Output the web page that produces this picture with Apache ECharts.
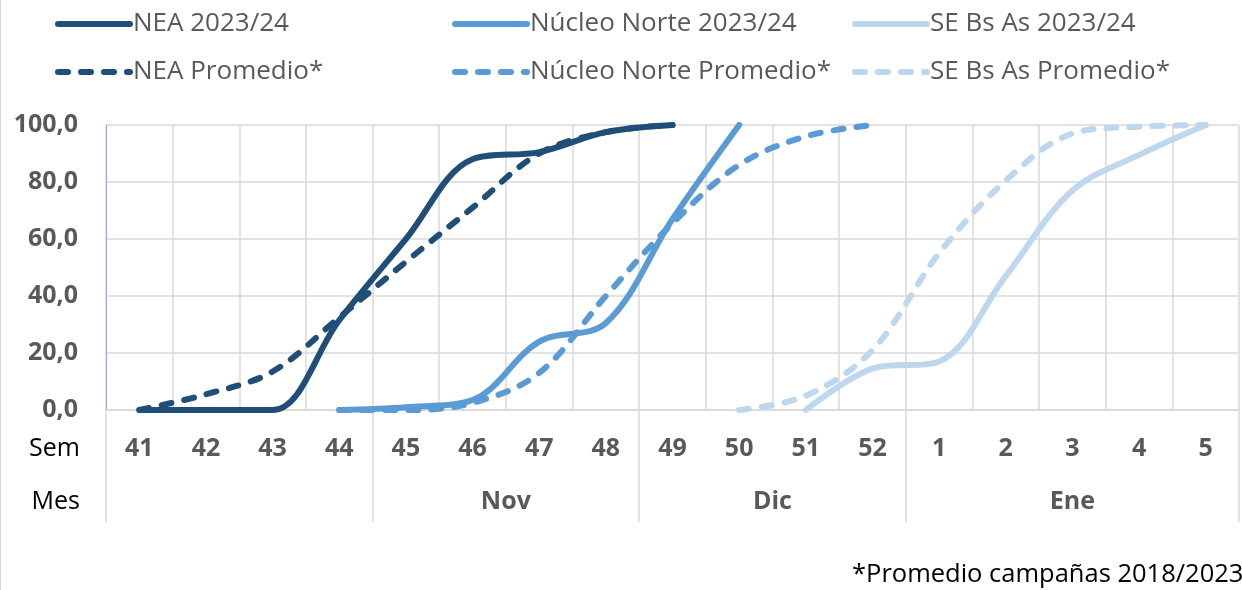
<!DOCTYPE html>
<html><head><meta charset="utf-8">
<script src="https://cdn.jsdelivr.net/npm/echarts@6/dist/echarts.min.js"></script>
<style>html,body{margin:0;padding:0;background:#fff}#c{width:1242px;height:590px}</style>
</head><body><div id="c"></div>
<script>
// ---- data ----
const weeks = ['41','42','43','44','45','46','47','48','49','50','51','52','1','2','3','4','5'];
// month groups: [label, first week index, end index (exclusive)]
const monthGroups = [['',0,4],['Nov',4,8],['Dic',8,12],['Ene',12,17]];
const yTicks = [0,20,40,60,80,100];
const neaActual   = [0, 0, 0, 31.5, 60, 88, 90.5, 97.5, 100, null, null, null, null, null, null, null, null];
const neaProm     = [0, 5.5, 13.5, 32.5, 52, 71, 90, 97.5, 100, null, null, null, null, null, null, null, null];
const nnActual    = [null, null, null, 0, 1, 3.5, 24, 30.5, 67, 100, null, null, null, null, null, null, null];
const nnProm      = [null, null, null, 0, 0, 2.5, 13, 40, 65.5, 86, 96, 100, null, null, null, null, null];
const seActual    = [null, null, null, null, null, null, null, null, null, null, 0, 14.5, 17, 47, 77, 89.5, 100];
const seProm      = [null, null, null, null, null, null, null, null, null, 0, 5, 21, 55, 80.5, 97, 99.4, 100];
const seriesNames = ['NEA 2023/24','NEA Promedio*','Núcleo Norte 2023/24','Núcleo Norte Promedio*','SE Bs As 2023/24','SE Bs As Promedio*'];
const footnote = '*Promedio campañas 2018/2023';

// ---- styling ----
const FONT = 'Open Sans';
const GRID = '#D9D9D9';
const TXT = '#595959';
const colors = ['#1F4E79','#1F4E79','#5B9BD5','#5B9BD5','#BDD7EE','#BDD7EE'];
const dataSets = [neaActual, neaProm, nnActual, nnProm, seActual, seProm];
const monthStarts = monthGroups.map(g => g[1]);
const monthCenters = {};
monthGroups.forEach(g => { monthCenters[(g[1] + g[2]) / 2] = g[0]; });

const series = dataSets.map((d, i) => ({
  name: seriesNames[i],
  type: 'line',
  data: d,
  smooth: 0.35,
  symbol: 'none',
  showSymbol: false,
  connectNulls: false,
  z: 10 - Math.floor(i/2),
  lineStyle: {
    color: colors[i],
    width: 6,
    type: i % 2 ? [10, 13] : 'solid',
    cap: 'round'
  },
  itemStyle: { color: colors[i] }
}));

function legendCol(names, left) {
  return {
    orient: 'vertical', left: left, top: 6,
    data: names,
    itemWidth: 72, itemHeight: 24, itemGap: 22,
    itemStyle: { opacity: 0 },
    lineStyle: { width: 6 },
    textStyle: { color: TXT, fontSize: 26, fontFamily: FONT, padding: [0,0,0,-2] },
    selectedMode: false
  };
}

const chart = echarts.init(document.getElementById('c'), null, { renderer: 'canvas' });
chart.setOption({
  animation: false,
  backgroundColor: '#fff',
  title: {
    text: footnote, left: 847, top: 557,
    textStyle: { fontFamily: FONT, fontSize: 25.5, fontWeight: 'normal', color: '#000' }
  },
  legend: [
    legendCol([seriesNames[0], seriesNames[1]], 50),
    legendCol([seriesNames[2], seriesNames[3]], 447),
    legendCol([seriesNames[4], seriesNames[5]], 847)
  ],
  grid: { left: 106, right: 2, top: 125, bottom: 180, containLabel: false },
  xAxis: [
    {
      type: 'category', data: weeks, boundaryGap: true, position: 'bottom',
      axisLine: { show: true, lineStyle: { color: GRID, width: 1.5 } },
      axisTick: { show: true, interval: (i) => monthStarts.indexOf(i) >= 0, length: 112, lineStyle: { color: GRID, width: 1.5 } },
      axisLabel: { interval: 0, color: TXT, fontWeight: 'bold', fontSize: 25, fontFamily: FONT, margin: 26 },
      splitLine: { show: true, interval: 0, lineStyle: { color: GRID, width: 1.5 } }
    },
    {
      type: 'value', min: 0, max: weeks.length, interval: 0.5, position: 'bottom', offset: 92,
      axisLine: { show: false }, axisTick: { show: false }, splitLine: { show: false },
      axisLabel: {
        show: true, margin: 0, verticalAlign: 'middle', color: TXT, fontWeight: 'bold', fontSize: 25, fontFamily: FONT,
        formatter: (v) => monthCenters[v] || ''
      },
      name: 'Mes', nameLocation: 'start', nameGap: 26,
      nameTextStyle: { color: '#000', fontSize: 25, fontFamily: FONT, verticalAlign: 'middle' }
    },
    {
      type: 'value', min: 0, max: weeks.length, position: 'bottom', offset: 39,
      axisLine: { show: false }, axisTick: { show: false }, splitLine: { show: false }, axisLabel: { show: false },
      name: 'Sem', nameLocation: 'start', nameGap: 26,
      nameTextStyle: { color: '#000', fontSize: 25, fontFamily: FONT, verticalAlign: 'middle' }
    }
  ],
  yAxis: {
    type: 'value', min: yTicks[0], max: yTicks[yTicks.length-1], interval: yTicks[1] - yTicks[0],
    axisLine: { show: true, lineStyle: { color: '#A3A3F5', width: 1 } },
    axisTick: { show: false },
    axisLabel: { color: TXT, fontWeight: 'bold', fontSize: 25, fontFamily: FONT, margin: 28,
      formatter: (v) => v.toFixed(1).replace('.', ',') },
    splitLine: { show: true, lineStyle: { color: GRID, width: 1.5 } }
  },
  graphic: [{
    type: 'rect', silent: true, z: -1,
    shape: { x: 0.5, y: -5, width: 1400, height: 700 },
    style: { fill: null, stroke: GRID, lineWidth: 1 }
  }],
  series: series
});
</script></body></html>
